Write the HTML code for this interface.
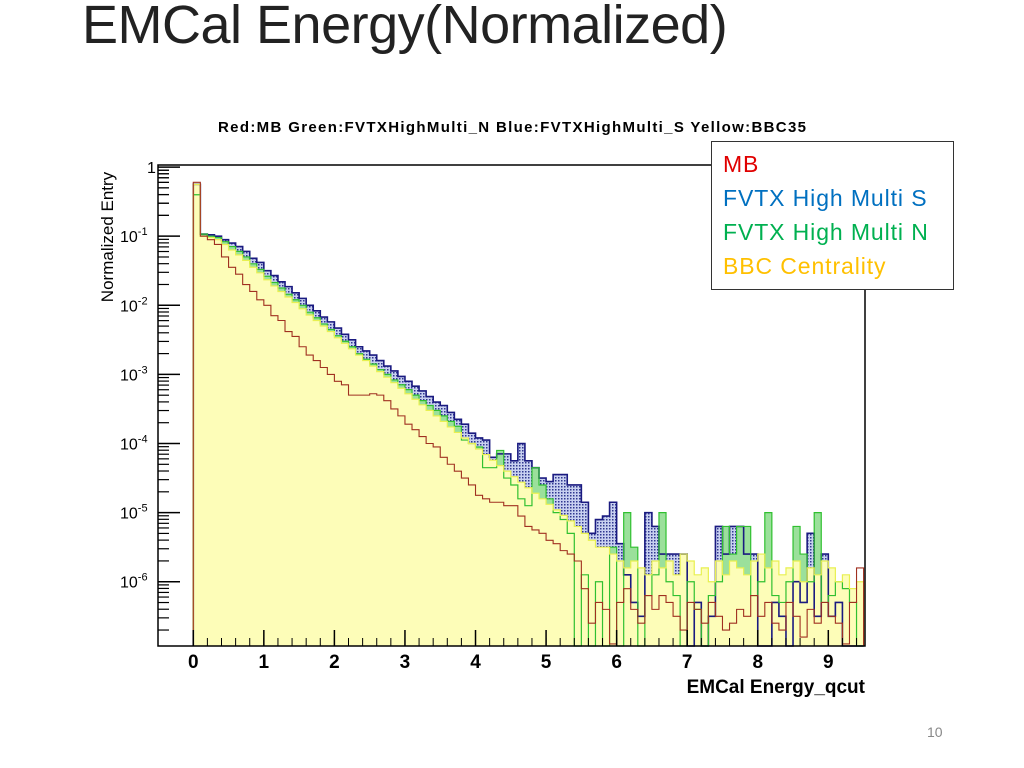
<!DOCTYPE html>
<html><head><meta charset="utf-8"><style>
body{margin:0;width:1024px;height:768px;background:#fff;overflow:hidden;font-family:"Liberation Sans",sans-serif;position:relative}
#title{position:absolute;left:82px;top:-6px;font-size:54px;color:#222;white-space:nowrap;letter-spacing:-0.5px}
#legend{position:absolute;left:711px;top:141px;width:243px;height:149px;border:1px solid #333;background:#fff;font-size:23px;letter-spacing:0.9px;line-height:34px;box-sizing:border-box;padding:5px 0 0 11px;white-space:nowrap}
#pg{position:absolute;left:927px;top:724px;font-size:14px;color:#888}
</style></head><body>
<div id="title">EMCal Energy(Normalized)</div>
<svg id="chart" width="1024" height="768" style="position:absolute;left:0;top:0">
<defs><pattern id="dots" width="3" height="3" patternUnits="userSpaceOnUse"><rect width="3" height="3" fill="#c8d0f0"/><rect width="1.5" height="1.5" fill="#303890"/></pattern></defs>
</svg>
<div id="legend">
<div style="color:#e00000">MB</div>
<div style="color:#0070c0">FVTX High Multi S</div>
<div style="color:#00b050">FVTX High Multi N</div>
<div style="color:#ffc000">BBC Centrality</div>
</div>
<div id="pg">10</div>
<script>
const binWidth=0.1;
const blueLog=[-0.25,-0.97,-0.98,-1.0,-1.05,-1.1,-1.15,-1.22,-1.32,-1.38,-1.5,-1.57,-1.66,-1.73,-1.82,-1.9,-2.0,-2.08,-2.17,-2.24,-2.33,-2.42,-2.5,-2.6,-2.66,-2.72,-2.8,-2.88,-2.95,-3.03,-3.1,-3.17,-3.24,-3.32,-3.4,-3.45,-3.55,-3.65,-3.72,-3.85,-3.92,-3.95,-4.2,-4.15,-4.15,-4.25,-4.0,-4.25,-4.35,-4.5,-4.55,-4.45,-4.45,-4.6,-4.6,-4.85,-5.3,-5.1,-5.05,-4.85,-5.45,-5.9,-6.3,-6.5,-5.0,-5.2,-5.6,-5.6,-5.6,-5.6,null,-6.3,null,-6.5,-5.2,-5.6,-5.2,-5.2,-5.6,-5.6,null,null,-6.3,-6.5,null,-6.0,-6.3,-5.3,-6.5,-5.6,-6.5,-6.3,null,null,null];
const greenLog=[-0.4,-0.97,-1.0,-1.02,-1.08,-1.15,-1.22,-1.3,-1.4,-1.48,-1.58,-1.67,-1.75,-1.84,-1.92,-2.0,-2.1,-2.18,-2.27,-2.35,-2.44,-2.52,-2.6,-2.7,-2.78,-2.85,-2.93,-3.0,-3.08,-3.15,-3.22,-3.3,-3.38,-3.45,-3.52,-3.6,-3.68,-3.75,-3.95,-4.0,-4.05,-4.35,-4.35,-4.1,-4.5,-4.6,-4.8,-4.9,-4.35,-4.6,-4.8,-5.0,-5.1,-5.3,null,-5.9,null,-6.0,null,-5.5,null,-5.0,-5.5,null,-6.2,-5.9,-5.0,-6.0,-6.2,null,-6.0,-6.4,null,-6.2,-6.0,-5.2,-5.6,-5.2,-5.2,-6.2,-6.0,-5.0,-6.2,-6.3,-6.0,-5.2,-5.6,-6.0,-5.0,-6.3,-6.2,-6.0,-6.1,-6.3,null];
const yellowLog=[-0.25,-1.0,-1.02,-1.05,-1.12,-1.2,-1.27,-1.35,-1.45,-1.53,-1.63,-1.72,-1.8,-1.88,-1.96,-2.05,-2.14,-2.22,-2.3,-2.38,-2.47,-2.55,-2.63,-2.72,-2.8,-2.88,-2.96,-3.04,-3.12,-3.2,-3.28,-3.36,-3.44,-3.52,-3.6,-3.68,-3.76,-3.84,-3.92,-4.0,-4.08,-4.16,-4.24,-4.32,-4.4,-4.48,-4.56,-4.64,-4.72,-4.8,-4.88,-4.96,-5.04,-5.12,-5.2,-5.3,-5.4,-5.5,-5.5,-5.6,-5.7,-5.8,-5.7,-5.8,-5.9,-5.7,-5.8,-5.7,-5.9,-5.6,-5.7,-5.9,-5.8,-6.0,-5.7,-5.9,-5.7,-5.8,-5.9,-5.7,-5.6,-5.8,-5.7,-5.9,-5.8,-5.7,-6.0,-5.8,-5.9,-5.7,-5.8,-6.0,-5.9,-6.1,-6.0];
const redLog=[-0.22,-1.0,-1.05,-1.12,-1.3,-1.45,-1.55,-1.7,-1.8,-1.92,-2.0,-2.15,-2.22,-2.38,-2.45,-2.6,-2.72,-2.8,-2.9,-3.0,-3.1,-3.15,-3.3,-3.3,-3.3,-3.28,-3.3,-3.38,-3.5,-3.6,-3.72,-3.8,-3.9,-4.0,-4.05,-4.2,-4.3,-4.4,-4.5,-4.6,-4.75,-4.8,-4.85,-4.85,-4.9,-4.9,-5.05,-5.2,-5.25,-5.3,-5.4,-5.45,-5.55,-5.6,-5.7,-6.1,-6.6,-6.3,-6.4,-6.9,-6.3,-6.1,-6.4,-6.6,-6.2,-6.4,-6.2,-6.3,-6.5,-6.7,-6.3,-6.4,-6.6,-6.3,-6.5,-6.7,-6.6,-6.4,-6.5,-6.2,-6.5,-6.3,-6.6,-6.7,-6.3,-6.5,-6.8,-6.4,-6.6,-6.3,-6.5,-6.6,-6.9,-6.3,-5.8];
const xTicks=[0,1,2,3,4,5,6,7,8,9];
const yDecades=[0,-1,-2,-3,-4,-5,-6];
const yTickLabels=["1","10","10","10","10","10","10"];
const yTickExps=["","-1","-2","-3","-4","-5","-6"];

const NS="http://www.w3.org/2000/svg";
const svg=document.getElementById('chart');
const L=158,R=865,T=165,B=646;
const xMin=-0.5,xMax=9.52,lMin=-6.93,lMax=0.03;
const X=v=>L+(v-xMin)/(xMax-xMin)*(R-L);
const Y=l=>(l===null)?B:B-(l-lMin)/(lMax-lMin)*(B-T);
function mk(tag,attrs){const e=document.createElementNS(NS,tag);for(const k in attrs)e.setAttribute(k,attrs[k]);svg.appendChild(e);return e;}
function stepPath(arr,closed){let d=`M${X(0)},${B}`;arr.forEach((v,i)=>{const y=Y(v);d+=` L${X(i*binWidth)},${y} L${X((i+1)*binWidth)},${y}`;});d+=` L${X(arr.length*binWidth)},${B}`;if(closed)d+=' Z';return d;}

let p;
p=mk('path',{d:stepPath(blueLog,true),fill:'url(#dots)',stroke:'none'});


p=mk('path',{d:stepPath(greenLog,true),fill:'#9be09b',stroke:'none'});


p=mk('path',{d:stepPath(yellowLog,true),fill:'#fdfdb8',stroke:'none'});


p=mk('path',{d:stepPath(blueLog,false),fill:'none',stroke:'#1a1a80',"stroke-width":1.6});


p=mk('path',{d:stepPath(greenLog,false),fill:'none',stroke:'#30c030',"stroke-width":1.2});


p=mk('path',{d:stepPath(yellowLog,false),fill:'none',stroke:'#e8f050',"stroke-width":1.2});


p=mk('path',{d:stepPath(redLog,false),fill:'none',stroke:'#a03020',"stroke-width":1.1});



p=mk('path',{d:`M${L},${B} L${L},${T} L${R},${T} L${R},${B} Z`,fill:'none',stroke:'#000',"stroke-width":1.5});



yDecades.forEach((d,i)=>{
  const y=Y(d);
  const t=mk('line',{x1:L,x2:L+22,y1:y,y2:y,stroke:'#000',"stroke-width":1.5});
  
  
  for(let m=2;m<=9;m++){const ym=Y(d-1+Math.log10(m));if(ym<B&&ym>T){const mt=mk('line',{x1:L,x2:L+11,y1:ym,y2:ym,stroke:'#000',"stroke-width":1.2});
  
  }}
  const tx=mk('text',{x:i===0?147:120,y:y+6,"font-size":16,fill:'#000',"font-family":'Liberation Sans, sans-serif'});
  tx.textContent=yTickLabels[i];
  if(yTickExps[i]){const ts=document.createElementNS(NS,'tspan');ts.setAttribute('dy','-7');ts.setAttribute('font-size','11');ts.textContent=yTickExps[i];tx.appendChild(ts);}
  
  
});
for(let m=2;m<=9;m++){const ym=Y(-1+Math.log10(m));const mt=mk('line',{x1:L,x2:L+11,y1:ym,y2:ym,stroke:'#000',"stroke-width":1.2});

}
for(let v=0;v<=9.5;v+=0.2){const x=X(v);const mt=mk('line',{x1:x,x2:x,y1:B,y2:B-8,stroke:'#000',"stroke-width":1});

}
xTicks.forEach(v=>{const x=X(v);
  const t=mk('line',{x1:x,x2:x,y1:B,y2:B-16,stroke:'#000',"stroke-width":1.5});
  
  
  const tx=mk('text',{x:x,y:B+22,"font-size":19,"font-weight":'bold',"text-anchor":'middle',fill:'#000'});
  tx.textContent=v;
  
  
});
let tx=mk('text',{x:865,y:693,"font-size":19,"font-weight":'bold',"text-anchor":'end',fill:'#000'});
tx.textContent='EMCal Energy_qcut';


tx=mk('text',{x:0,y:0,"font-size":17,"text-anchor":'middle',fill:'#000',transform:'translate(113,237) rotate(-90)'});
tx.textContent='Normalized Entry';


tx=mk('text',{x:512,y:132,"font-size":15,"font-weight":'bold',"text-anchor":'middle',fill:'#000',"textLength":588});
tx.textContent='Red:MB Green:FVTXHighMulti_N Blue:FVTXHighMulti_S Yellow:BBC35';


</script>
</body></html>
